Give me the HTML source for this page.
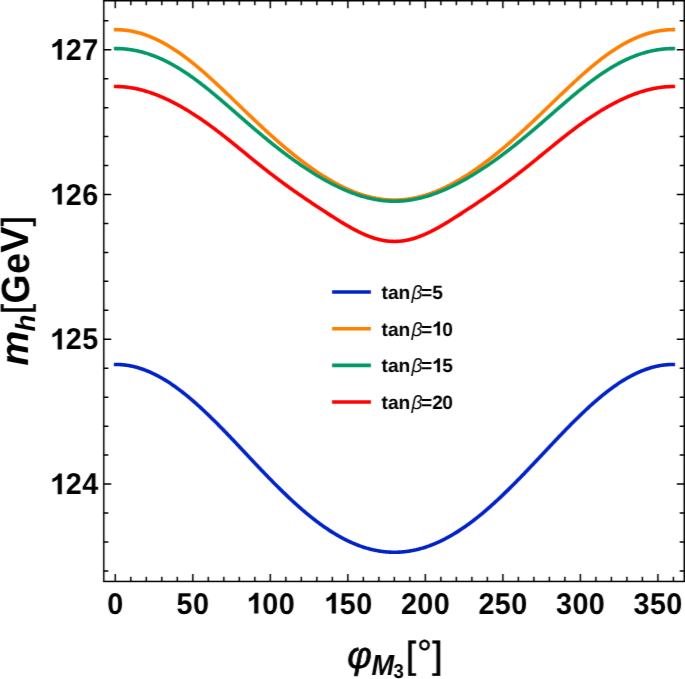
<!DOCTYPE html>
<html><head><meta charset="utf-8"><style>
html,body{margin:0;padding:0;background:#fff;}
body{width:685px;height:679px;overflow:hidden;}
svg{display:block;}
text{font-family:"Liberation Sans",sans-serif;fill:#000;text-rendering:geometricPrecision;}
.tl{font-size:30.00px;font-weight:bold;}
.lg{font-size:19.2px;font-weight:bold;}
.gk{font-weight:normal;font-style:italic;}
</style></head><body>
<svg width="685" height="679" viewBox="0 0 685 679"><defs><filter id="sf" filterUnits="userSpaceOnUse" x="0" y="0" width="685" height="679"><feConvolveMatrix order="3" kernelMatrix="0.00226 0.01181 0.00226 0.13394 0.69946 0.13394 0.00226 0.01181 0.00226" edgeMode="duplicate" preserveAlpha="false"/></filter></defs><g opacity="0.999"><g filter="url(#sf)">
<path d="M115.65,364.45 L116.42,364.46 L117.20,364.47 L117.97,364.49 L118.75,364.52 L119.52,364.55 L120.30,364.59 L121.07,364.65 L121.85,364.71 L122.62,364.77 L123.40,364.85 L124.17,364.93 L124.94,365.02 L125.72,365.12 L126.49,365.23 L127.27,365.34 L128.04,365.46 L128.82,365.59 L129.59,365.73 L130.37,365.88 L131.14,366.03 L131.91,366.19 L132.69,366.36 L133.46,366.54 L134.24,366.72 L135.01,366.91 L135.79,367.11 L136.56,367.32 L137.34,367.54 L138.11,367.76 L138.88,367.99 L139.66,368.23 L140.43,368.47 L141.21,368.72 L141.98,368.98 L142.76,369.25 L143.53,369.53 L144.31,369.81 L145.08,370.10 L145.86,370.40 L146.63,370.70 L147.40,371.01 L148.18,371.33 L148.95,371.66 L149.73,371.99 L150.50,372.34 L151.28,372.68 L152.05,373.04 L152.83,373.40 L153.60,373.77 L154.38,374.15 L155.15,374.53 L155.92,374.92 L156.70,375.32 L157.47,375.72 L158.25,376.13 L159.02,376.55 L159.80,376.97 L160.57,377.41 L161.35,377.84 L162.12,378.29 L162.89,378.74 L163.67,379.20 L164.44,379.66 L165.22,380.13 L165.99,380.61 L166.77,381.09 L167.54,381.58 L168.32,382.08 L169.09,382.58 L169.87,383.09 L170.64,383.60 L171.41,384.12 L172.19,384.65 L172.96,385.18 L173.74,385.72 L174.51,386.26 L175.29,386.81 L176.06,387.37 L176.84,387.93 L177.61,388.49 L178.38,389.07 L179.16,389.65 L179.93,390.23 L180.71,390.82 L181.48,391.41 L182.26,392.01 L183.03,392.62 L183.81,393.23 L184.58,393.84 L185.36,394.46 L186.13,395.09 L186.90,395.72 L187.68,396.36 L188.45,397.00 L189.23,397.64 L190.00,398.29 L190.78,398.95 L191.55,399.61 L192.33,400.27 L193.10,400.94 L193.87,401.61 L194.65,402.29 L195.42,402.97 L196.20,403.66 L196.97,404.35 L197.75,405.04 L198.52,405.74 L199.30,406.44 L200.07,407.15 L200.84,407.86 L201.62,408.58 L202.39,409.29 L203.17,410.02 L203.94,410.74 L204.72,411.47 L205.49,412.20 L206.27,412.94 L207.04,413.68 L207.82,414.42 L208.59,415.17 L209.36,415.92 L210.14,416.67 L210.91,417.42 L211.69,418.18 L212.46,418.94 L213.24,419.71 L214.01,420.47 L214.79,421.24 L215.56,422.02 L216.34,422.79 L217.11,423.57 L217.88,424.35 L218.66,425.13 L219.43,425.92 L220.21,426.70 L220.98,427.49 L221.76,428.28 L222.53,429.08 L223.31,429.87 L224.08,430.67 L224.85,431.47 L225.63,432.27 L226.40,433.07 L227.18,433.87 L227.95,434.68 L228.73,435.49 L229.50,436.30 L230.28,437.11 L231.05,437.92 L231.82,438.73 L232.60,439.55 L233.37,440.36 L234.15,441.18 L234.92,441.99 L235.70,442.81 L236.47,443.63 L237.25,444.45 L238.02,445.27 L238.80,446.09 L239.57,446.91 L240.34,447.74 L241.12,448.56 L241.89,449.38 L242.67,450.21 L243.44,451.03 L244.22,451.85 L244.99,452.68 L245.77,453.50 L246.54,454.32 L247.31,455.15 L248.09,455.97 L248.86,456.80 L249.64,457.62 L250.41,458.44 L251.19,459.27 L251.96,460.09 L252.74,460.91 L253.51,461.73 L254.29,462.55 L255.06,463.37 L255.83,464.19 L256.61,465.01 L257.38,465.83 L258.16,466.64 L258.93,467.46 L259.71,468.27 L260.48,469.08 L261.26,469.90 L262.03,470.71 L262.81,471.52 L263.58,472.32 L264.35,473.13 L265.13,473.94 L265.90,474.74 L266.68,475.54 L267.45,476.34 L268.23,477.14 L269.00,477.94 L269.78,478.73 L270.55,479.52 L271.32,480.32 L272.10,481.10 L272.87,481.89 L273.65,482.68 L274.42,483.46 L275.20,484.24 L275.97,485.02 L276.75,485.79 L277.52,486.57 L278.29,487.34 L279.07,488.11 L279.84,488.87 L280.62,489.63 L281.39,490.39 L282.17,491.15 L282.94,491.91 L283.72,492.66 L284.49,493.41 L285.27,494.16 L286.04,494.90 L286.81,495.64 L287.59,496.38 L288.36,497.11 L289.14,497.84 L289.91,498.57 L290.69,499.29 L291.46,500.01 L292.24,500.73 L293.01,501.45 L293.78,502.16 L294.56,502.86 L295.33,503.57 L296.11,504.27 L296.88,504.97 L297.66,505.66 L298.43,506.35 L299.21,507.03 L299.98,507.71 L300.76,508.39 L301.53,509.07 L302.30,509.74 L303.08,510.40 L303.85,511.06 L304.63,511.72 L305.40,512.37 L306.18,513.02 L306.95,513.67 L307.73,514.31 L308.50,514.95 L309.27,515.58 L310.05,516.21 L310.82,516.83 L311.60,517.45 L312.37,518.06 L313.15,518.67 L313.92,519.28 L314.70,519.88 L315.47,520.48 L316.25,521.07 L317.02,521.65 L317.79,522.24 L318.57,522.81 L319.34,523.39 L320.12,523.95 L320.89,524.52 L321.67,525.08 L322.44,525.63 L323.22,526.18 L323.99,526.72 L324.76,527.26 L325.54,527.79 L326.31,528.32 L327.09,528.84 L327.86,529.36 L328.64,529.87 L329.41,530.38 L330.19,530.88 L330.96,531.38 L331.74,531.87 L332.51,532.36 L333.28,532.84 L334.06,533.31 L334.83,533.78 L335.61,534.25 L336.38,534.71 L337.16,535.16 L337.93,535.61 L338.71,536.05 L339.48,536.49 L340.25,536.92 L341.03,537.35 L341.80,537.77 L342.58,538.18 L343.35,538.59 L344.13,538.99 L344.90,539.39 L345.68,539.78 L346.45,540.17 L347.23,540.55 L348.00,540.93 L348.77,541.29 L349.55,541.66 L350.32,542.01 L351.10,542.37 L351.87,542.71 L352.65,543.05 L353.42,543.38 L354.20,543.71 L354.97,544.03 L355.75,544.35 L356.52,544.66 L357.29,544.96 L358.07,545.26 L358.84,545.55 L359.62,545.84 L360.39,546.12 L361.17,546.39 L361.94,546.66 L362.72,546.92 L363.49,547.17 L364.26,547.42 L365.04,547.67 L365.81,547.90 L366.59,548.13 L367.36,548.36 L368.14,548.58 L368.91,548.79 L369.69,548.99 L370.46,549.19 L371.24,549.39 L372.01,549.57 L372.78,549.76 L373.56,549.93 L374.33,550.10 L375.11,550.26 L375.88,550.42 L376.66,550.57 L377.43,550.71 L378.21,550.84 L378.98,550.98 L379.75,551.10 L380.53,551.22 L381.30,551.33 L382.08,551.43 L382.85,551.53 L383.63,551.63 L384.40,551.71 L385.18,551.79 L385.95,551.86 L386.73,551.93 L387.50,551.99 L388.27,552.05 L389.05,552.09 L389.82,552.14 L390.60,552.17 L391.37,552.20 L392.15,552.22 L392.92,552.24 L393.70,552.25 L394.47,552.25 L395.24,552.25 L396.02,552.24 L396.79,552.22 L397.57,552.20 L398.34,552.17 L399.12,552.14 L399.89,552.09 L400.67,552.05 L401.44,551.99 L402.22,551.93 L402.99,551.86 L403.76,551.79 L404.54,551.71 L405.31,551.63 L406.09,551.53 L406.86,551.43 L407.64,551.33 L408.41,551.22 L409.19,551.10 L409.96,550.98 L410.73,550.84 L411.51,550.71 L412.28,550.57 L413.06,550.42 L413.83,550.26 L414.61,550.10 L415.38,549.93 L416.16,549.76 L416.93,549.57 L417.71,549.39 L418.48,549.19 L419.25,548.99 L420.03,548.79 L420.80,548.58 L421.58,548.36 L422.35,548.13 L423.13,547.90 L423.90,547.67 L424.68,547.42 L425.45,547.17 L426.22,546.92 L427.00,546.66 L427.77,546.39 L428.55,546.12 L429.32,545.84 L430.10,545.55 L430.87,545.26 L431.65,544.96 L432.42,544.66 L433.19,544.35 L433.97,544.03 L434.74,543.71 L435.52,543.38 L436.29,543.05 L437.07,542.71 L437.84,542.37 L438.62,542.01 L439.39,541.66 L440.17,541.29 L440.94,540.93 L441.71,540.55 L442.49,540.17 L443.26,539.78 L444.04,539.39 L444.81,538.99 L445.59,538.59 L446.36,538.18 L447.14,537.77 L447.91,537.35 L448.68,536.92 L449.46,536.49 L450.23,536.05 L451.01,535.61 L451.78,535.16 L452.56,534.71 L453.33,534.25 L454.11,533.78 L454.88,533.31 L455.66,532.84 L456.43,532.36 L457.20,531.87 L457.98,531.38 L458.75,530.88 L459.53,530.38 L460.30,529.87 L461.08,529.36 L461.85,528.84 L462.63,528.32 L463.40,527.79 L464.17,527.26 L464.95,526.72 L465.72,526.18 L466.50,525.63 L467.27,525.08 L468.05,524.52 L468.82,523.95 L469.60,523.39 L470.37,522.81 L471.15,522.24 L471.92,521.65 L472.69,521.07 L473.47,520.48 L474.24,519.88 L475.02,519.28 L475.79,518.67 L476.57,518.06 L477.34,517.45 L478.12,516.83 L478.89,516.21 L479.66,515.58 L480.44,514.95 L481.21,514.31 L481.99,513.67 L482.76,513.02 L483.54,512.37 L484.31,511.72 L485.09,511.06 L485.86,510.40 L486.64,509.74 L487.41,509.07 L488.18,508.39 L488.96,507.71 L489.73,507.03 L490.51,506.35 L491.28,505.66 L492.06,504.97 L492.83,504.27 L493.61,503.57 L494.38,502.86 L495.15,502.16 L495.93,501.45 L496.70,500.73 L497.48,500.01 L498.25,499.29 L499.03,498.57 L499.80,497.84 L500.58,497.11 L501.35,496.38 L502.13,495.64 L502.90,494.90 L503.67,494.16 L504.45,493.41 L505.22,492.66 L506.00,491.91 L506.77,491.15 L507.55,490.39 L508.32,489.63 L509.10,488.87 L509.87,488.11 L510.64,487.34 L511.42,486.57 L512.19,485.79 L512.97,485.02 L513.74,484.24 L514.52,483.46 L515.29,482.68 L516.07,481.89 L516.84,481.10 L517.62,480.32 L518.39,479.52 L519.16,478.73 L519.94,477.94 L520.71,477.14 L521.49,476.34 L522.26,475.54 L523.04,474.74 L523.81,473.94 L524.59,473.13 L525.36,472.32 L526.13,471.52 L526.91,470.71 L527.68,469.90 L528.46,469.08 L529.23,468.27 L530.01,467.46 L530.78,466.64 L531.56,465.83 L532.33,465.01 L533.11,464.19 L533.88,463.37 L534.65,462.55 L535.43,461.73 L536.20,460.91 L536.98,460.09 L537.75,459.27 L538.53,458.44 L539.30,457.62 L540.08,456.80 L540.85,455.97 L541.62,455.15 L542.40,454.32 L543.17,453.50 L543.95,452.68 L544.72,451.85 L545.50,451.03 L546.27,450.21 L547.05,449.38 L547.82,448.56 L548.60,447.74 L549.37,446.91 L550.14,446.09 L550.92,445.27 L551.69,444.45 L552.47,443.63 L553.24,442.81 L554.02,441.99 L554.79,441.18 L555.57,440.36 L556.34,439.55 L557.12,438.73 L557.89,437.92 L558.66,437.11 L559.44,436.30 L560.21,435.49 L560.99,434.68 L561.76,433.87 L562.54,433.07 L563.31,432.27 L564.09,431.47 L564.86,430.67 L565.63,429.87 L566.41,429.08 L567.18,428.28 L567.96,427.49 L568.73,426.70 L569.51,425.92 L570.28,425.13 L571.06,424.35 L571.83,423.57 L572.61,422.79 L573.38,422.02 L574.15,421.24 L574.93,420.47 L575.70,419.71 L576.48,418.94 L577.25,418.18 L578.03,417.42 L578.80,416.67 L579.58,415.92 L580.35,415.17 L581.12,414.42 L581.90,413.68 L582.67,412.94 L583.45,412.20 L584.22,411.47 L585.00,410.74 L585.77,410.02 L586.55,409.29 L587.32,408.58 L588.10,407.86 L588.87,407.15 L589.64,406.44 L590.42,405.74 L591.19,405.04 L591.97,404.35 L592.74,403.66 L593.52,402.97 L594.29,402.29 L595.07,401.61 L595.84,400.94 L596.61,400.27 L597.39,399.61 L598.16,398.95 L598.94,398.29 L599.71,397.64 L600.49,397.00 L601.26,396.36 L602.04,395.72 L602.81,395.09 L603.59,394.46 L604.36,393.84 L605.13,393.23 L605.91,392.62 L606.68,392.01 L607.46,391.41 L608.23,390.82 L609.01,390.23 L609.78,389.65 L610.56,389.07 L611.33,388.49 L612.10,387.93 L612.88,387.37 L613.65,386.81 L614.43,386.26 L615.20,385.72 L615.98,385.18 L616.75,384.65 L617.53,384.12 L618.30,383.60 L619.07,383.09 L619.85,382.58 L620.62,382.08 L621.40,381.58 L622.17,381.09 L622.95,380.61 L623.72,380.13 L624.50,379.66 L625.27,379.20 L626.05,378.74 L626.82,378.29 L627.59,377.84 L628.37,377.41 L629.14,376.97 L629.92,376.55 L630.69,376.13 L631.47,375.72 L632.24,375.32 L633.02,374.92 L633.79,374.53 L634.56,374.15 L635.34,373.77 L636.11,373.40 L636.89,373.04 L637.66,372.68 L638.44,372.34 L639.21,371.99 L639.99,371.66 L640.76,371.33 L641.54,371.01 L642.31,370.70 L643.08,370.40 L643.86,370.10 L644.63,369.81 L645.41,369.53 L646.18,369.25 L646.96,368.98 L647.73,368.72 L648.51,368.47 L649.28,368.23 L650.05,367.99 L650.83,367.76 L651.60,367.54 L652.38,367.32 L653.15,367.11 L653.93,366.91 L654.70,366.72 L655.48,366.54 L656.25,366.36 L657.03,366.19 L657.80,366.03 L658.57,365.88 L659.35,365.73 L660.12,365.59 L660.90,365.46 L661.67,365.34 L662.45,365.23 L663.22,365.12 L664.00,365.02 L664.77,364.93 L665.54,364.85 L666.32,364.77 L667.09,364.71 L667.87,364.65 L668.64,364.59 L669.42,364.55 L670.19,364.52 L670.97,364.49 L671.74,364.47 L672.52,364.46 L673.29,364.45" fill="none" stroke="#0224c6" stroke-width="3.60" stroke-linecap="square" stroke-linejoin="round"/>
<path d="M115.65,29.66 L116.42,29.67 L117.20,29.68 L117.97,29.70 L118.75,29.72 L119.52,29.75 L120.30,29.79 L121.07,29.84 L121.85,29.89 L122.62,29.95 L123.40,30.02 L124.17,30.10 L124.94,30.18 L125.72,30.27 L126.49,30.36 L127.27,30.47 L128.04,30.58 L128.82,30.69 L129.59,30.82 L130.37,30.95 L131.14,31.09 L131.91,31.24 L132.69,31.39 L133.46,31.55 L134.24,31.72 L135.01,31.89 L135.79,32.07 L136.56,32.26 L137.34,32.46 L138.11,32.66 L138.88,32.87 L139.66,33.08 L140.43,33.31 L141.21,33.54 L141.98,33.77 L142.76,34.02 L143.53,34.27 L144.31,34.52 L145.08,34.79 L145.86,35.06 L146.63,35.34 L147.40,35.62 L148.18,35.91 L148.95,36.21 L149.73,36.52 L150.50,36.83 L151.28,37.15 L152.05,37.47 L152.83,37.80 L153.60,38.14 L154.38,38.48 L155.15,38.84 L155.92,39.19 L156.70,39.56 L157.47,39.93 L158.25,40.31 L159.02,40.69 L159.80,41.08 L160.57,41.47 L161.35,41.88 L162.12,42.29 L162.89,42.70 L163.67,43.12 L164.44,43.55 L165.22,43.98 L165.99,44.42 L166.77,44.87 L167.54,45.32 L168.32,45.78 L169.09,46.24 L169.87,46.71 L170.64,47.19 L171.41,47.67 L172.19,48.15 L172.96,48.65 L173.74,49.14 L174.51,49.65 L175.29,50.16 L176.06,50.67 L176.84,51.19 L177.61,51.72 L178.38,52.25 L179.16,52.79 L179.93,53.33 L180.71,53.87 L181.48,54.43 L182.26,54.98 L183.03,55.55 L183.81,56.11 L184.58,56.69 L185.36,57.26 L186.13,57.84 L186.90,58.43 L187.68,59.02 L188.45,59.62 L189.23,60.22 L190.00,60.82 L190.78,61.43 L191.55,62.05 L192.33,62.67 L193.10,63.29 L193.87,63.91 L194.65,64.55 L195.42,65.18 L196.20,65.82 L196.97,66.46 L197.75,67.11 L198.52,67.76 L199.30,68.41 L200.07,69.07 L200.84,69.73 L201.62,70.40 L202.39,71.07 L203.17,71.74 L203.94,72.41 L204.72,73.09 L205.49,73.77 L206.27,74.46 L207.04,75.14 L207.82,75.83 L208.59,76.53 L209.36,77.22 L210.14,77.92 L210.91,78.62 L211.69,79.33 L212.46,80.03 L213.24,80.74 L214.01,81.45 L214.79,82.17 L215.56,82.88 L216.34,83.60 L217.11,84.32 L217.88,85.04 L218.66,85.77 L219.43,86.49 L220.21,87.22 L220.98,87.95 L221.76,88.68 L222.53,89.41 L223.31,90.14 L224.08,90.88 L224.85,91.61 L225.63,92.35 L226.40,93.09 L227.18,93.83 L227.95,94.57 L228.73,95.31 L229.50,96.05 L230.28,96.80 L231.05,97.54 L231.82,98.28 L232.60,99.03 L233.37,99.77 L234.15,100.52 L234.92,101.27 L235.70,102.01 L236.47,102.76 L237.25,103.51 L238.02,104.25 L238.80,105.00 L239.57,105.75 L240.34,106.49 L241.12,107.24 L241.89,107.99 L242.67,108.73 L243.44,109.48 L244.22,110.23 L244.99,110.97 L245.77,111.71 L246.54,112.46 L247.31,113.20 L248.09,113.94 L248.86,114.69 L249.64,115.43 L250.41,116.17 L251.19,116.90 L251.96,117.64 L252.74,118.38 L253.51,119.12 L254.29,119.85 L255.06,120.58 L255.83,121.32 L256.61,122.05 L257.38,122.78 L258.16,123.50 L258.93,124.23 L259.71,124.95 L260.48,125.68 L261.26,126.40 L262.03,127.12 L262.81,127.84 L263.58,128.56 L264.35,129.27 L265.13,129.98 L265.90,130.69 L266.68,131.40 L267.45,132.11 L268.23,132.82 L269.00,133.52 L269.78,134.22 L270.55,134.92 L271.32,135.62 L272.10,136.31 L272.87,137.01 L273.65,137.70 L274.42,138.38 L275.20,139.07 L275.97,139.75 L276.75,140.44 L277.52,141.11 L278.29,141.79 L279.07,142.46 L279.84,143.14 L280.62,143.80 L281.39,144.47 L282.17,145.13 L282.94,145.79 L283.72,146.45 L284.49,147.11 L285.27,147.76 L286.04,148.41 L286.81,149.06 L287.59,149.70 L288.36,150.35 L289.14,150.98 L289.91,151.62 L290.69,152.25 L291.46,152.88 L292.24,153.51 L293.01,154.14 L293.78,154.76 L294.56,155.38 L295.33,155.99 L296.11,156.60 L296.88,157.21 L297.66,157.82 L298.43,158.42 L299.21,159.02 L299.98,159.62 L300.76,160.21 L301.53,160.80 L302.30,161.39 L303.08,161.97 L303.85,162.55 L304.63,163.13 L305.40,163.70 L306.18,164.27 L306.95,164.84 L307.73,165.40 L308.50,165.96 L309.27,166.52 L310.05,167.07 L310.82,167.62 L311.60,168.17 L312.37,168.71 L313.15,169.25 L313.92,169.78 L314.70,170.32 L315.47,170.84 L316.25,171.37 L317.02,171.89 L317.79,172.40 L318.57,172.92 L319.34,173.43 L320.12,173.93 L320.89,174.43 L321.67,174.93 L322.44,175.42 L323.22,175.91 L323.99,176.40 L324.76,176.88 L325.54,177.36 L326.31,177.83 L327.09,178.30 L327.86,178.77 L328.64,179.23 L329.41,179.69 L330.19,180.14 L330.96,180.59 L331.74,181.03 L332.51,181.47 L333.28,181.91 L334.06,182.34 L334.83,182.77 L335.61,183.19 L336.38,183.61 L337.16,184.02 L337.93,184.43 L338.71,184.83 L339.48,185.23 L340.25,185.63 L341.03,186.02 L341.80,186.41 L342.58,186.79 L343.35,187.16 L344.13,187.54 L344.90,187.90 L345.68,188.27 L346.45,188.62 L347.23,188.98 L348.00,189.32 L348.77,189.67 L349.55,190.00 L350.32,190.34 L351.10,190.66 L351.87,190.99 L352.65,191.30 L353.42,191.62 L354.20,191.92 L354.97,192.23 L355.75,192.52 L356.52,192.81 L357.29,193.10 L358.07,193.38 L358.84,193.65 L359.62,193.92 L360.39,194.19 L361.17,194.45 L361.94,194.70 L362.72,194.95 L363.49,195.19 L364.26,195.43 L365.04,195.66 L365.81,195.88 L366.59,196.10 L367.36,196.32 L368.14,196.53 L368.91,196.73 L369.69,196.93 L370.46,197.12 L371.24,197.30 L372.01,197.48 L372.78,197.66 L373.56,197.82 L374.33,197.99 L375.11,198.14 L375.88,198.29 L376.66,198.44 L377.43,198.57 L378.21,198.71 L378.98,198.83 L379.75,198.95 L380.53,199.06 L381.30,199.17 L382.08,199.27 L382.85,199.37 L383.63,199.46 L384.40,199.54 L385.18,199.62 L385.95,199.69 L386.73,199.76 L387.50,199.81 L388.27,199.87 L389.05,199.91 L389.82,199.95 L390.60,199.99 L391.37,200.02 L392.15,200.04 L392.92,200.05 L393.70,200.06 L394.47,200.07 L395.24,200.06 L396.02,200.05 L396.79,200.04 L397.57,200.02 L398.34,199.99 L399.12,199.95 L399.89,199.91 L400.67,199.87 L401.44,199.81 L402.22,199.76 L402.99,199.69 L403.76,199.62 L404.54,199.54 L405.31,199.46 L406.09,199.37 L406.86,199.27 L407.64,199.17 L408.41,199.06 L409.19,198.95 L409.96,198.83 L410.73,198.71 L411.51,198.57 L412.28,198.44 L413.06,198.29 L413.83,198.14 L414.61,197.99 L415.38,197.82 L416.16,197.66 L416.93,197.48 L417.71,197.30 L418.48,197.12 L419.25,196.93 L420.03,196.73 L420.80,196.53 L421.58,196.32 L422.35,196.10 L423.13,195.88 L423.90,195.66 L424.68,195.43 L425.45,195.19 L426.22,194.95 L427.00,194.70 L427.77,194.45 L428.55,194.19 L429.32,193.92 L430.10,193.65 L430.87,193.38 L431.65,193.10 L432.42,192.81 L433.19,192.52 L433.97,192.23 L434.74,191.92 L435.52,191.62 L436.29,191.30 L437.07,190.99 L437.84,190.66 L438.62,190.34 L439.39,190.00 L440.17,189.67 L440.94,189.32 L441.71,188.98 L442.49,188.62 L443.26,188.27 L444.04,187.90 L444.81,187.54 L445.59,187.16 L446.36,186.79 L447.14,186.41 L447.91,186.02 L448.68,185.63 L449.46,185.23 L450.23,184.83 L451.01,184.43 L451.78,184.02 L452.56,183.61 L453.33,183.19 L454.11,182.77 L454.88,182.34 L455.66,181.91 L456.43,181.47 L457.20,181.03 L457.98,180.59 L458.75,180.14 L459.53,179.69 L460.30,179.23 L461.08,178.77 L461.85,178.30 L462.63,177.83 L463.40,177.36 L464.17,176.88 L464.95,176.40 L465.72,175.91 L466.50,175.42 L467.27,174.93 L468.05,174.43 L468.82,173.93 L469.60,173.43 L470.37,172.92 L471.15,172.40 L471.92,171.89 L472.69,171.37 L473.47,170.84 L474.24,170.32 L475.02,169.78 L475.79,169.25 L476.57,168.71 L477.34,168.17 L478.12,167.62 L478.89,167.07 L479.66,166.52 L480.44,165.96 L481.21,165.40 L481.99,164.84 L482.76,164.27 L483.54,163.70 L484.31,163.13 L485.09,162.55 L485.86,161.97 L486.64,161.39 L487.41,160.80 L488.18,160.21 L488.96,159.62 L489.73,159.02 L490.51,158.42 L491.28,157.82 L492.06,157.21 L492.83,156.60 L493.61,155.99 L494.38,155.38 L495.15,154.76 L495.93,154.14 L496.70,153.51 L497.48,152.88 L498.25,152.25 L499.03,151.62 L499.80,150.98 L500.58,150.35 L501.35,149.70 L502.13,149.06 L502.90,148.41 L503.67,147.76 L504.45,147.11 L505.22,146.45 L506.00,145.79 L506.77,145.13 L507.55,144.47 L508.32,143.80 L509.10,143.14 L509.87,142.46 L510.64,141.79 L511.42,141.11 L512.19,140.44 L512.97,139.75 L513.74,139.07 L514.52,138.38 L515.29,137.70 L516.07,137.01 L516.84,136.31 L517.62,135.62 L518.39,134.92 L519.16,134.22 L519.94,133.52 L520.71,132.82 L521.49,132.11 L522.26,131.40 L523.04,130.69 L523.81,129.98 L524.59,129.27 L525.36,128.56 L526.13,127.84 L526.91,127.12 L527.68,126.40 L528.46,125.68 L529.23,124.95 L530.01,124.23 L530.78,123.50 L531.56,122.78 L532.33,122.05 L533.11,121.32 L533.88,120.58 L534.65,119.85 L535.43,119.12 L536.20,118.38 L536.98,117.64 L537.75,116.90 L538.53,116.17 L539.30,115.43 L540.08,114.69 L540.85,113.94 L541.62,113.20 L542.40,112.46 L543.17,111.71 L543.95,110.97 L544.72,110.23 L545.50,109.48 L546.27,108.73 L547.05,107.99 L547.82,107.24 L548.60,106.49 L549.37,105.75 L550.14,105.00 L550.92,104.25 L551.69,103.51 L552.47,102.76 L553.24,102.01 L554.02,101.27 L554.79,100.52 L555.57,99.77 L556.34,99.03 L557.12,98.28 L557.89,97.54 L558.66,96.80 L559.44,96.05 L560.21,95.31 L560.99,94.57 L561.76,93.83 L562.54,93.09 L563.31,92.35 L564.09,91.61 L564.86,90.88 L565.63,90.14 L566.41,89.41 L567.18,88.68 L567.96,87.95 L568.73,87.22 L569.51,86.49 L570.28,85.77 L571.06,85.04 L571.83,84.32 L572.61,83.60 L573.38,82.88 L574.15,82.17 L574.93,81.45 L575.70,80.74 L576.48,80.03 L577.25,79.33 L578.03,78.62 L578.80,77.92 L579.58,77.22 L580.35,76.53 L581.12,75.83 L581.90,75.14 L582.67,74.46 L583.45,73.77 L584.22,73.09 L585.00,72.41 L585.77,71.74 L586.55,71.07 L587.32,70.40 L588.10,69.73 L588.87,69.07 L589.64,68.41 L590.42,67.76 L591.19,67.11 L591.97,66.46 L592.74,65.82 L593.52,65.18 L594.29,64.55 L595.07,63.91 L595.84,63.29 L596.61,62.67 L597.39,62.05 L598.16,61.43 L598.94,60.82 L599.71,60.22 L600.49,59.62 L601.26,59.02 L602.04,58.43 L602.81,57.84 L603.59,57.26 L604.36,56.69 L605.13,56.11 L605.91,55.55 L606.68,54.98 L607.46,54.43 L608.23,53.87 L609.01,53.33 L609.78,52.79 L610.56,52.25 L611.33,51.72 L612.10,51.19 L612.88,50.67 L613.65,50.16 L614.43,49.65 L615.20,49.14 L615.98,48.65 L616.75,48.15 L617.53,47.67 L618.30,47.19 L619.07,46.71 L619.85,46.24 L620.62,45.78 L621.40,45.32 L622.17,44.87 L622.95,44.42 L623.72,43.98 L624.50,43.55 L625.27,43.12 L626.05,42.70 L626.82,42.29 L627.59,41.88 L628.37,41.47 L629.14,41.08 L629.92,40.69 L630.69,40.31 L631.47,39.93 L632.24,39.56 L633.02,39.19 L633.79,38.84 L634.56,38.48 L635.34,38.14 L636.11,37.80 L636.89,37.47 L637.66,37.15 L638.44,36.83 L639.21,36.52 L639.99,36.21 L640.76,35.91 L641.54,35.62 L642.31,35.34 L643.08,35.06 L643.86,34.79 L644.63,34.52 L645.41,34.27 L646.18,34.02 L646.96,33.77 L647.73,33.54 L648.51,33.31 L649.28,33.08 L650.05,32.87 L650.83,32.66 L651.60,32.46 L652.38,32.26 L653.15,32.07 L653.93,31.89 L654.70,31.72 L655.48,31.55 L656.25,31.39 L657.03,31.24 L657.80,31.09 L658.57,30.95 L659.35,30.82 L660.12,30.69 L660.90,30.58 L661.67,30.47 L662.45,30.36 L663.22,30.27 L664.00,30.18 L664.77,30.10 L665.54,30.02 L666.32,29.95 L667.09,29.89 L667.87,29.84 L668.64,29.79 L669.42,29.75 L670.19,29.72 L670.97,29.70 L671.74,29.68 L672.52,29.67 L673.29,29.66" fill="none" stroke="#ff8000" stroke-width="3.60" stroke-linecap="square" stroke-linejoin="round"/>
<path d="M115.65,48.57 L116.42,48.58 L117.20,48.59 L117.97,48.60 L118.75,48.62 L119.52,48.65 L120.30,48.68 L121.07,48.72 L121.85,48.77 L122.62,48.82 L123.40,48.87 L124.17,48.94 L124.94,49.01 L125.72,49.08 L126.49,49.16 L127.27,49.25 L128.04,49.34 L128.82,49.44 L129.59,49.55 L130.37,49.66 L131.14,49.78 L131.91,49.90 L132.69,50.03 L133.46,50.16 L134.24,50.31 L135.01,50.45 L135.79,50.61 L136.56,50.77 L137.34,50.93 L138.11,51.10 L138.88,51.28 L139.66,51.46 L140.43,51.65 L141.21,51.85 L141.98,52.05 L142.76,52.26 L143.53,52.47 L144.31,52.69 L145.08,52.91 L145.86,53.14 L146.63,53.38 L147.40,53.63 L148.18,53.87 L148.95,54.13 L149.73,54.39 L150.50,54.66 L151.28,54.93 L152.05,55.21 L152.83,55.49 L153.60,55.78 L154.38,56.08 L155.15,56.38 L155.92,56.69 L156.70,57.00 L157.47,57.32 L158.25,57.65 L159.02,57.98 L159.80,58.31 L160.57,58.66 L161.35,59.00 L162.12,59.36 L162.89,59.72 L163.67,60.08 L164.44,60.45 L165.22,60.83 L165.99,61.21 L166.77,61.60 L167.54,61.99 L168.32,62.39 L169.09,62.80 L169.87,63.21 L170.64,63.62 L171.41,64.04 L172.19,64.47 L172.96,64.90 L173.74,65.33 L174.51,65.78 L175.29,66.22 L176.06,66.68 L176.84,67.13 L177.61,67.59 L178.38,68.06 L179.16,68.53 L179.93,69.01 L180.71,69.49 L181.48,69.98 L182.26,70.47 L183.03,70.97 L183.81,71.47 L184.58,71.98 L185.36,72.49 L186.13,73.01 L186.90,73.53 L187.68,74.05 L188.45,74.58 L189.23,75.11 L190.00,75.65 L190.78,76.20 L191.55,76.74 L192.33,77.29 L193.10,77.85 L193.87,78.41 L194.65,78.97 L195.42,79.54 L196.20,80.11 L196.97,80.68 L197.75,81.26 L198.52,81.84 L199.30,82.43 L200.07,83.02 L200.84,83.61 L201.62,84.21 L202.39,84.81 L203.17,85.41 L203.94,86.02 L204.72,86.63 L205.49,87.24 L206.27,87.85 L207.04,88.47 L207.82,89.09 L208.59,89.72 L209.36,90.34 L210.14,90.97 L210.91,91.61 L211.69,92.24 L212.46,92.88 L213.24,93.52 L214.01,94.16 L214.79,94.80 L215.56,95.45 L216.34,96.10 L217.11,96.75 L217.88,97.40 L218.66,98.05 L219.43,98.71 L220.21,99.36 L220.98,100.02 L221.76,100.68 L222.53,101.35 L223.31,102.01 L224.08,102.67 L224.85,103.34 L225.63,104.01 L226.40,104.67 L227.18,105.34 L227.95,106.01 L228.73,106.68 L229.50,107.35 L230.28,108.03 L231.05,108.70 L231.82,109.37 L232.60,110.05 L233.37,110.72 L234.15,111.40 L234.92,112.07 L235.70,112.75 L236.47,113.42 L237.25,114.10 L238.02,114.77 L238.80,115.45 L239.57,116.12 L240.34,116.80 L241.12,117.47 L241.89,118.15 L242.67,118.82 L243.44,119.49 L244.22,120.17 L244.99,120.84 L245.77,121.51 L246.54,122.18 L247.31,122.85 L248.09,123.52 L248.86,124.19 L249.64,124.86 L250.41,125.53 L251.19,126.19 L251.96,126.86 L252.74,127.52 L253.51,128.18 L254.29,128.85 L255.06,129.51 L255.83,130.17 L256.61,130.82 L257.38,131.48 L258.16,132.13 L258.93,132.79 L259.71,133.44 L260.48,134.09 L261.26,134.74 L262.03,135.38 L262.81,136.03 L263.58,136.67 L264.35,137.31 L265.13,137.95 L265.90,138.59 L266.68,139.23 L267.45,139.86 L268.23,140.49 L269.00,141.12 L269.78,141.75 L270.55,142.38 L271.32,143.00 L272.10,143.62 L272.87,144.24 L273.65,144.86 L274.42,145.48 L275.20,146.09 L275.97,146.70 L276.75,147.31 L277.52,147.91 L278.29,148.52 L279.07,149.12 L279.84,149.72 L280.62,150.32 L281.39,150.91 L282.17,151.50 L282.94,152.09 L283.72,152.68 L284.49,153.27 L285.27,153.85 L286.04,154.43 L286.81,155.01 L287.59,155.58 L288.36,156.15 L289.14,156.72 L289.91,157.29 L290.69,157.85 L291.46,158.42 L292.24,158.98 L293.01,159.53 L293.78,160.09 L294.56,160.64 L295.33,161.19 L296.11,161.73 L296.88,162.28 L297.66,162.82 L298.43,163.35 L299.21,163.89 L299.98,164.42 L300.76,164.95 L301.53,165.48 L302.30,166.00 L303.08,166.52 L303.85,167.04 L304.63,167.56 L305.40,168.07 L306.18,168.58 L306.95,169.08 L307.73,169.59 L308.50,170.09 L309.27,170.59 L310.05,171.08 L310.82,171.57 L311.60,172.06 L312.37,172.55 L313.15,173.03 L313.92,173.51 L314.70,173.99 L315.47,174.46 L316.25,174.93 L317.02,175.40 L317.79,175.86 L318.57,176.32 L319.34,176.78 L320.12,177.23 L320.89,177.69 L321.67,178.13 L322.44,178.58 L323.22,179.02 L323.99,179.46 L324.76,179.89 L325.54,180.32 L326.31,180.75 L327.09,181.18 L327.86,181.60 L328.64,182.01 L329.41,182.43 L330.19,182.84 L330.96,183.24 L331.74,183.65 L332.51,184.05 L333.28,184.44 L334.06,184.83 L334.83,185.22 L335.61,185.61 L336.38,185.99 L337.16,186.36 L337.93,186.74 L338.71,187.11 L339.48,187.47 L340.25,187.83 L341.03,188.19 L341.80,188.54 L342.58,188.89 L343.35,189.24 L344.13,189.58 L344.90,189.91 L345.68,190.25 L346.45,190.57 L347.23,190.90 L348.00,191.22 L348.77,191.53 L349.55,191.84 L350.32,192.15 L351.10,192.45 L351.87,192.75 L352.65,193.04 L353.42,193.33 L354.20,193.61 L354.97,193.89 L355.75,194.17 L356.52,194.44 L357.29,194.70 L358.07,194.96 L358.84,195.22 L359.62,195.47 L360.39,195.71 L361.17,195.95 L361.94,196.19 L362.72,196.42 L363.49,196.64 L364.26,196.86 L365.04,197.08 L365.81,197.29 L366.59,197.49 L367.36,197.69 L368.14,197.89 L368.91,198.08 L369.69,198.26 L370.46,198.44 L371.24,198.61 L372.01,198.78 L372.78,198.94 L373.56,199.10 L374.33,199.25 L375.11,199.39 L375.88,199.53 L376.66,199.67 L377.43,199.80 L378.21,199.92 L378.98,200.04 L379.75,200.15 L380.53,200.26 L381.30,200.36 L382.08,200.46 L382.85,200.55 L383.63,200.63 L384.40,200.71 L385.18,200.78 L385.95,200.85 L386.73,200.91 L387.50,200.96 L388.27,201.01 L389.05,201.06 L389.82,201.10 L390.60,201.13 L391.37,201.15 L392.15,201.17 L392.92,201.19 L393.70,201.20 L394.47,201.20 L395.24,201.20 L396.02,201.19 L396.79,201.17 L397.57,201.15 L398.34,201.13 L399.12,201.10 L399.89,201.06 L400.67,201.01 L401.44,200.96 L402.22,200.91 L402.99,200.85 L403.76,200.78 L404.54,200.71 L405.31,200.63 L406.09,200.55 L406.86,200.46 L407.64,200.36 L408.41,200.26 L409.19,200.15 L409.96,200.04 L410.73,199.92 L411.51,199.80 L412.28,199.67 L413.06,199.53 L413.83,199.39 L414.61,199.25 L415.38,199.10 L416.16,198.94 L416.93,198.78 L417.71,198.61 L418.48,198.44 L419.25,198.26 L420.03,198.08 L420.80,197.89 L421.58,197.69 L422.35,197.49 L423.13,197.29 L423.90,197.08 L424.68,196.86 L425.45,196.64 L426.22,196.42 L427.00,196.19 L427.77,195.95 L428.55,195.71 L429.32,195.47 L430.10,195.22 L430.87,194.96 L431.65,194.70 L432.42,194.44 L433.19,194.17 L433.97,193.89 L434.74,193.61 L435.52,193.33 L436.29,193.04 L437.07,192.75 L437.84,192.45 L438.62,192.15 L439.39,191.84 L440.17,191.53 L440.94,191.22 L441.71,190.90 L442.49,190.57 L443.26,190.25 L444.04,189.91 L444.81,189.58 L445.59,189.24 L446.36,188.89 L447.14,188.54 L447.91,188.19 L448.68,187.83 L449.46,187.47 L450.23,187.11 L451.01,186.74 L451.78,186.36 L452.56,185.99 L453.33,185.61 L454.11,185.22 L454.88,184.83 L455.66,184.44 L456.43,184.05 L457.20,183.65 L457.98,183.24 L458.75,182.84 L459.53,182.43 L460.30,182.01 L461.08,181.60 L461.85,181.18 L462.63,180.75 L463.40,180.32 L464.17,179.89 L464.95,179.46 L465.72,179.02 L466.50,178.58 L467.27,178.13 L468.05,177.69 L468.82,177.23 L469.60,176.78 L470.37,176.32 L471.15,175.86 L471.92,175.40 L472.69,174.93 L473.47,174.46 L474.24,173.99 L475.02,173.51 L475.79,173.03 L476.57,172.55 L477.34,172.06 L478.12,171.57 L478.89,171.08 L479.66,170.59 L480.44,170.09 L481.21,169.59 L481.99,169.08 L482.76,168.58 L483.54,168.07 L484.31,167.56 L485.09,167.04 L485.86,166.52 L486.64,166.00 L487.41,165.48 L488.18,164.95 L488.96,164.42 L489.73,163.89 L490.51,163.35 L491.28,162.82 L492.06,162.28 L492.83,161.73 L493.61,161.19 L494.38,160.64 L495.15,160.09 L495.93,159.53 L496.70,158.98 L497.48,158.42 L498.25,157.85 L499.03,157.29 L499.80,156.72 L500.58,156.15 L501.35,155.58 L502.13,155.01 L502.90,154.43 L503.67,153.85 L504.45,153.27 L505.22,152.68 L506.00,152.09 L506.77,151.50 L507.55,150.91 L508.32,150.32 L509.10,149.72 L509.87,149.12 L510.64,148.52 L511.42,147.91 L512.19,147.31 L512.97,146.70 L513.74,146.09 L514.52,145.48 L515.29,144.86 L516.07,144.24 L516.84,143.62 L517.62,143.00 L518.39,142.38 L519.16,141.75 L519.94,141.12 L520.71,140.49 L521.49,139.86 L522.26,139.23 L523.04,138.59 L523.81,137.95 L524.59,137.31 L525.36,136.67 L526.13,136.03 L526.91,135.38 L527.68,134.74 L528.46,134.09 L529.23,133.44 L530.01,132.79 L530.78,132.13 L531.56,131.48 L532.33,130.82 L533.11,130.17 L533.88,129.51 L534.65,128.85 L535.43,128.18 L536.20,127.52 L536.98,126.86 L537.75,126.19 L538.53,125.53 L539.30,124.86 L540.08,124.19 L540.85,123.52 L541.62,122.85 L542.40,122.18 L543.17,121.51 L543.95,120.84 L544.72,120.17 L545.50,119.49 L546.27,118.82 L547.05,118.15 L547.82,117.47 L548.60,116.80 L549.37,116.12 L550.14,115.45 L550.92,114.77 L551.69,114.10 L552.47,113.42 L553.24,112.75 L554.02,112.07 L554.79,111.40 L555.57,110.72 L556.34,110.05 L557.12,109.37 L557.89,108.70 L558.66,108.03 L559.44,107.35 L560.21,106.68 L560.99,106.01 L561.76,105.34 L562.54,104.67 L563.31,104.01 L564.09,103.34 L564.86,102.67 L565.63,102.01 L566.41,101.35 L567.18,100.68 L567.96,100.02 L568.73,99.36 L569.51,98.71 L570.28,98.05 L571.06,97.40 L571.83,96.75 L572.61,96.10 L573.38,95.45 L574.15,94.80 L574.93,94.16 L575.70,93.52 L576.48,92.88 L577.25,92.24 L578.03,91.61 L578.80,90.97 L579.58,90.34 L580.35,89.72 L581.12,89.09 L581.90,88.47 L582.67,87.85 L583.45,87.24 L584.22,86.63 L585.00,86.02 L585.77,85.41 L586.55,84.81 L587.32,84.21 L588.10,83.61 L588.87,83.02 L589.64,82.43 L590.42,81.84 L591.19,81.26 L591.97,80.68 L592.74,80.11 L593.52,79.54 L594.29,78.97 L595.07,78.41 L595.84,77.85 L596.61,77.29 L597.39,76.74 L598.16,76.20 L598.94,75.65 L599.71,75.11 L600.49,74.58 L601.26,74.05 L602.04,73.53 L602.81,73.01 L603.59,72.49 L604.36,71.98 L605.13,71.47 L605.91,70.97 L606.68,70.47 L607.46,69.98 L608.23,69.49 L609.01,69.01 L609.78,68.53 L610.56,68.06 L611.33,67.59 L612.10,67.13 L612.88,66.68 L613.65,66.22 L614.43,65.78 L615.20,65.33 L615.98,64.90 L616.75,64.47 L617.53,64.04 L618.30,63.62 L619.07,63.21 L619.85,62.80 L620.62,62.39 L621.40,61.99 L622.17,61.60 L622.95,61.21 L623.72,60.83 L624.50,60.45 L625.27,60.08 L626.05,59.72 L626.82,59.36 L627.59,59.00 L628.37,58.66 L629.14,58.31 L629.92,57.98 L630.69,57.65 L631.47,57.32 L632.24,57.00 L633.02,56.69 L633.79,56.38 L634.56,56.08 L635.34,55.78 L636.11,55.49 L636.89,55.21 L637.66,54.93 L638.44,54.66 L639.21,54.39 L639.99,54.13 L640.76,53.87 L641.54,53.63 L642.31,53.38 L643.08,53.14 L643.86,52.91 L644.63,52.69 L645.41,52.47 L646.18,52.26 L646.96,52.05 L647.73,51.85 L648.51,51.65 L649.28,51.46 L650.05,51.28 L650.83,51.10 L651.60,50.93 L652.38,50.77 L653.15,50.61 L653.93,50.45 L654.70,50.31 L655.48,50.16 L656.25,50.03 L657.03,49.90 L657.80,49.78 L658.57,49.66 L659.35,49.55 L660.12,49.44 L660.90,49.34 L661.67,49.25 L662.45,49.16 L663.22,49.08 L664.00,49.01 L664.77,48.94 L665.54,48.87 L666.32,48.82 L667.09,48.77 L667.87,48.72 L668.64,48.68 L669.42,48.65 L670.19,48.62 L670.97,48.60 L671.74,48.59 L672.52,48.58 L673.29,48.57" fill="none" stroke="#009966" stroke-width="3.60" stroke-linecap="square" stroke-linejoin="round"/>
<path d="M115.65,86.53 L116.42,86.54 L117.20,86.55 L117.97,86.56 L118.75,86.58 L119.52,86.61 L120.30,86.65 L121.07,86.69 L121.85,86.73 L122.62,86.79 L123.40,86.85 L124.17,86.91 L124.94,86.98 L125.72,87.06 L126.49,87.15 L127.27,87.24 L128.04,87.33 L128.82,87.44 L129.59,87.54 L130.37,87.66 L131.14,87.78 L131.91,87.91 L132.69,88.04 L133.46,88.18 L134.24,88.32 L135.01,88.47 L135.79,88.63 L136.56,88.79 L137.34,88.96 L138.11,89.13 L138.88,89.31 L139.66,89.50 L140.43,89.69 L141.21,89.88 L141.98,90.09 L142.76,90.29 L143.53,90.51 L144.31,90.72 L145.08,90.95 L145.86,91.18 L146.63,91.41 L147.40,91.65 L148.18,91.90 L148.95,92.15 L149.73,92.40 L150.50,92.66 L151.28,92.93 L152.05,93.20 L152.83,93.48 L153.60,93.76 L154.38,94.04 L155.15,94.33 L155.92,94.63 L156.70,94.93 L157.47,95.23 L158.25,95.54 L159.02,95.86 L159.80,96.18 L160.57,96.50 L161.35,96.83 L162.12,97.16 L162.89,97.50 L163.67,97.84 L164.44,98.19 L165.22,98.54 L165.99,98.90 L166.77,99.26 L167.54,99.62 L168.32,99.99 L169.09,100.36 L169.87,100.74 L170.64,101.12 L171.41,101.51 L172.19,101.90 L172.96,102.29 L173.74,102.69 L174.51,103.09 L175.29,103.50 L176.06,103.91 L176.84,104.32 L177.61,104.74 L178.38,105.16 L179.16,105.59 L179.93,106.02 L180.71,106.45 L181.48,106.89 L182.26,107.33 L183.03,107.78 L183.81,108.23 L184.58,108.68 L185.36,109.14 L186.13,109.60 L186.90,110.06 L187.68,110.53 L188.45,111.00 L189.23,111.48 L190.00,111.96 L190.78,112.44 L191.55,112.92 L192.33,113.41 L193.10,113.91 L193.87,114.40 L194.65,114.91 L195.42,115.41 L196.20,115.92 L196.97,116.43 L197.75,116.94 L198.52,117.46 L199.30,117.98 L200.07,118.50 L200.84,119.03 L201.62,119.56 L202.39,120.10 L203.17,120.63 L203.94,121.17 L204.72,121.72 L205.49,122.26 L206.27,122.81 L207.04,123.37 L207.82,123.92 L208.59,124.48 L209.36,125.04 L210.14,125.61 L210.91,126.17 L211.69,126.74 L212.46,127.32 L213.24,127.89 L214.01,128.47 L214.79,129.05 L215.56,129.63 L216.34,130.22 L217.11,130.81 L217.88,131.40 L218.66,131.99 L219.43,132.59 L220.21,133.18 L220.98,133.78 L221.76,134.39 L222.53,134.99 L223.31,135.60 L224.08,136.20 L224.85,136.81 L225.63,137.42 L226.40,138.04 L227.18,138.65 L227.95,139.27 L228.73,139.89 L229.50,140.51 L230.28,141.13 L231.05,141.75 L231.82,142.37 L232.60,143.00 L233.37,143.62 L234.15,144.25 L234.92,144.88 L235.70,145.51 L236.47,146.14 L237.25,146.77 L238.02,147.40 L238.80,148.03 L239.57,148.66 L240.34,149.29 L241.12,149.93 L241.89,150.56 L242.67,151.19 L243.44,151.83 L244.22,152.46 L244.99,153.09 L245.77,153.73 L246.54,154.36 L247.31,154.99 L248.09,155.62 L248.86,156.26 L249.64,156.89 L250.41,157.52 L251.19,158.15 L251.96,158.78 L252.74,159.41 L253.51,160.04 L254.29,160.66 L255.06,161.29 L255.83,161.92 L256.61,162.54 L257.38,163.16 L258.16,163.79 L258.93,164.41 L259.71,165.03 L260.48,165.65 L261.26,166.26 L262.03,166.88 L262.81,167.49 L263.58,168.11 L264.35,168.72 L265.13,169.33 L265.90,169.94 L266.68,170.54 L267.45,171.15 L268.23,171.75 L269.00,172.35 L269.78,172.95 L270.55,173.55 L271.32,174.15 L272.10,174.74 L272.87,175.34 L273.65,175.93 L274.42,176.52 L275.20,177.10 L275.97,177.69 L276.75,178.27 L277.52,178.85 L278.29,179.43 L279.07,180.01 L279.84,180.59 L280.62,181.16 L281.39,181.74 L282.17,182.31 L282.94,182.88 L283.72,183.44 L284.49,184.01 L285.27,184.57 L286.04,185.13 L286.81,185.69 L287.59,186.25 L288.36,186.81 L289.14,187.36 L289.91,187.92 L290.69,188.47 L291.46,189.02 L292.24,189.57 L293.01,190.12 L293.78,190.66 L294.56,191.21 L295.33,191.75 L296.11,192.29 L296.88,192.83 L297.66,193.37 L298.43,193.91 L299.21,194.45 L299.98,194.98 L300.76,195.51 L301.53,196.05 L302.30,196.58 L303.08,197.11 L303.85,197.64 L304.63,198.17 L305.40,198.70 L306.18,199.22 L306.95,199.75 L307.73,200.27 L308.50,200.80 L309.27,201.32 L310.05,201.84 L310.82,202.36 L311.60,202.88 L312.37,203.40 L313.15,203.92 L313.92,204.44 L314.70,204.96 L315.47,205.47 L316.25,205.99 L317.02,206.50 L317.79,207.02 L318.57,207.53 L319.34,208.04 L320.12,208.55 L320.89,209.06 L321.67,209.57 L322.44,210.08 L323.22,210.59 L323.99,211.10 L324.76,211.61 L325.54,212.11 L326.31,212.61 L327.09,213.12 L327.86,213.62 L328.64,214.12 L329.41,214.62 L330.19,215.12 L330.96,215.62 L331.74,216.11 L332.51,216.61 L333.28,217.10 L334.06,217.59 L334.83,218.08 L335.61,218.57 L336.38,219.06 L337.16,219.54 L337.93,220.02 L338.71,220.50 L339.48,220.98 L340.25,221.45 L341.03,221.93 L341.80,222.40 L342.58,222.87 L343.35,223.33 L344.13,223.79 L344.90,224.25 L345.68,224.71 L346.45,225.16 L347.23,225.61 L348.00,226.06 L348.77,226.50 L349.55,226.94 L350.32,227.38 L351.10,227.81 L351.87,228.24 L352.65,228.66 L353.42,229.08 L354.20,229.49 L354.97,229.90 L355.75,230.31 L356.52,230.71 L357.29,231.10 L358.07,231.49 L358.84,231.88 L359.62,232.25 L360.39,232.63 L361.17,232.99 L361.94,233.36 L362.72,233.71 L363.49,234.06 L364.26,234.40 L365.04,234.74 L365.81,235.07 L366.59,235.39 L367.36,235.70 L368.14,236.01 L368.91,236.31 L369.69,236.60 L370.46,236.89 L371.24,237.17 L372.01,237.44 L372.78,237.70 L373.56,237.96 L374.33,238.20 L375.11,238.44 L375.88,238.67 L376.66,238.89 L377.43,239.10 L378.21,239.31 L378.98,239.50 L379.75,239.69 L380.53,239.87 L381.30,240.03 L382.08,240.19 L382.85,240.34 L383.63,240.48 L384.40,240.62 L385.18,240.74 L385.95,240.85 L386.73,240.95 L387.50,241.04 L388.27,241.13 L389.05,241.20 L389.82,241.27 L390.60,241.32 L391.37,241.36 L392.15,241.40 L392.92,241.42 L393.70,241.44 L394.47,241.44 L395.24,241.44 L396.02,241.42 L396.79,241.40 L397.57,241.36 L398.34,241.32 L399.12,241.27 L399.89,241.20 L400.67,241.13 L401.44,241.04 L402.22,240.95 L402.99,240.85 L403.76,240.74 L404.54,240.62 L405.31,240.48 L406.09,240.34 L406.86,240.19 L407.64,240.03 L408.41,239.87 L409.19,239.69 L409.96,239.50 L410.73,239.31 L411.51,239.10 L412.28,238.89 L413.06,238.67 L413.83,238.44 L414.61,238.20 L415.38,237.96 L416.16,237.70 L416.93,237.44 L417.71,237.17 L418.48,236.89 L419.25,236.60 L420.03,236.31 L420.80,236.01 L421.58,235.70 L422.35,235.39 L423.13,235.07 L423.90,234.74 L424.68,234.40 L425.45,234.06 L426.22,233.71 L427.00,233.36 L427.77,232.99 L428.55,232.63 L429.32,232.25 L430.10,231.88 L430.87,231.49 L431.65,231.10 L432.42,230.71 L433.19,230.31 L433.97,229.90 L434.74,229.49 L435.52,229.08 L436.29,228.66 L437.07,228.24 L437.84,227.81 L438.62,227.38 L439.39,226.94 L440.17,226.50 L440.94,226.06 L441.71,225.61 L442.49,225.16 L443.26,224.71 L444.04,224.25 L444.81,223.79 L445.59,223.33 L446.36,222.87 L447.14,222.40 L447.91,221.93 L448.68,221.45 L449.46,220.98 L450.23,220.50 L451.01,220.02 L451.78,219.54 L452.56,219.06 L453.33,218.57 L454.11,218.08 L454.88,217.59 L455.66,217.10 L456.43,216.61 L457.20,216.11 L457.98,215.62 L458.75,215.12 L459.53,214.62 L460.30,214.12 L461.08,213.62 L461.85,213.12 L462.63,212.61 L463.40,212.11 L464.17,211.61 L464.95,211.10 L465.72,210.59 L466.50,210.08 L467.27,209.57 L468.05,209.06 L468.82,208.55 L469.60,208.04 L470.37,207.53 L471.15,207.02 L471.92,206.50 L472.69,205.99 L473.47,205.47 L474.24,204.96 L475.02,204.44 L475.79,203.92 L476.57,203.40 L477.34,202.88 L478.12,202.36 L478.89,201.84 L479.66,201.32 L480.44,200.80 L481.21,200.27 L481.99,199.75 L482.76,199.22 L483.54,198.70 L484.31,198.17 L485.09,197.64 L485.86,197.11 L486.64,196.58 L487.41,196.05 L488.18,195.51 L488.96,194.98 L489.73,194.45 L490.51,193.91 L491.28,193.37 L492.06,192.83 L492.83,192.29 L493.61,191.75 L494.38,191.21 L495.15,190.66 L495.93,190.12 L496.70,189.57 L497.48,189.02 L498.25,188.47 L499.03,187.92 L499.80,187.36 L500.58,186.81 L501.35,186.25 L502.13,185.69 L502.90,185.13 L503.67,184.57 L504.45,184.01 L505.22,183.44 L506.00,182.88 L506.77,182.31 L507.55,181.74 L508.32,181.16 L509.10,180.59 L509.87,180.01 L510.64,179.43 L511.42,178.85 L512.19,178.27 L512.97,177.69 L513.74,177.10 L514.52,176.52 L515.29,175.93 L516.07,175.34 L516.84,174.74 L517.62,174.15 L518.39,173.55 L519.16,172.95 L519.94,172.35 L520.71,171.75 L521.49,171.15 L522.26,170.54 L523.04,169.94 L523.81,169.33 L524.59,168.72 L525.36,168.11 L526.13,167.49 L526.91,166.88 L527.68,166.26 L528.46,165.65 L529.23,165.03 L530.01,164.41 L530.78,163.79 L531.56,163.16 L532.33,162.54 L533.11,161.92 L533.88,161.29 L534.65,160.66 L535.43,160.04 L536.20,159.41 L536.98,158.78 L537.75,158.15 L538.53,157.52 L539.30,156.89 L540.08,156.26 L540.85,155.62 L541.62,154.99 L542.40,154.36 L543.17,153.73 L543.95,153.09 L544.72,152.46 L545.50,151.83 L546.27,151.19 L547.05,150.56 L547.82,149.93 L548.60,149.29 L549.37,148.66 L550.14,148.03 L550.92,147.40 L551.69,146.77 L552.47,146.14 L553.24,145.51 L554.02,144.88 L554.79,144.25 L555.57,143.62 L556.34,143.00 L557.12,142.37 L557.89,141.75 L558.66,141.13 L559.44,140.51 L560.21,139.89 L560.99,139.27 L561.76,138.65 L562.54,138.04 L563.31,137.42 L564.09,136.81 L564.86,136.20 L565.63,135.60 L566.41,134.99 L567.18,134.39 L567.96,133.78 L568.73,133.18 L569.51,132.59 L570.28,131.99 L571.06,131.40 L571.83,130.81 L572.61,130.22 L573.38,129.63 L574.15,129.05 L574.93,128.47 L575.70,127.89 L576.48,127.32 L577.25,126.74 L578.03,126.17 L578.80,125.61 L579.58,125.04 L580.35,124.48 L581.12,123.92 L581.90,123.37 L582.67,122.81 L583.45,122.26 L584.22,121.72 L585.00,121.17 L585.77,120.63 L586.55,120.10 L587.32,119.56 L588.10,119.03 L588.87,118.50 L589.64,117.98 L590.42,117.46 L591.19,116.94 L591.97,116.43 L592.74,115.92 L593.52,115.41 L594.29,114.91 L595.07,114.40 L595.84,113.91 L596.61,113.41 L597.39,112.92 L598.16,112.44 L598.94,111.96 L599.71,111.48 L600.49,111.00 L601.26,110.53 L602.04,110.06 L602.81,109.60 L603.59,109.14 L604.36,108.68 L605.13,108.23 L605.91,107.78 L606.68,107.33 L607.46,106.89 L608.23,106.45 L609.01,106.02 L609.78,105.59 L610.56,105.16 L611.33,104.74 L612.10,104.32 L612.88,103.91 L613.65,103.50 L614.43,103.09 L615.20,102.69 L615.98,102.29 L616.75,101.90 L617.53,101.51 L618.30,101.12 L619.07,100.74 L619.85,100.36 L620.62,99.99 L621.40,99.62 L622.17,99.26 L622.95,98.90 L623.72,98.54 L624.50,98.19 L625.27,97.84 L626.05,97.50 L626.82,97.16 L627.59,96.83 L628.37,96.50 L629.14,96.18 L629.92,95.86 L630.69,95.54 L631.47,95.23 L632.24,94.93 L633.02,94.63 L633.79,94.33 L634.56,94.04 L635.34,93.76 L636.11,93.48 L636.89,93.20 L637.66,92.93 L638.44,92.66 L639.21,92.40 L639.99,92.15 L640.76,91.90 L641.54,91.65 L642.31,91.41 L643.08,91.18 L643.86,90.95 L644.63,90.72 L645.41,90.51 L646.18,90.29 L646.96,90.09 L647.73,89.88 L648.51,89.69 L649.28,89.50 L650.05,89.31 L650.83,89.13 L651.60,88.96 L652.38,88.79 L653.15,88.63 L653.93,88.47 L654.70,88.32 L655.48,88.18 L656.25,88.04 L657.03,87.91 L657.80,87.78 L658.57,87.66 L659.35,87.54 L660.12,87.44 L660.90,87.33 L661.67,87.24 L662.45,87.15 L663.22,87.06 L664.00,86.98 L664.77,86.91 L665.54,86.85 L666.32,86.79 L667.09,86.73 L667.87,86.69 L668.64,86.65 L669.42,86.61 L670.19,86.58 L670.97,86.56 L671.74,86.55 L672.52,86.54 L673.29,86.53" fill="none" stroke="#ff0000" stroke-width="3.60" stroke-linecap="square" stroke-linejoin="round"/>
<path d="M115.30,581.45V573.95M115.30,0.75V8.25M130.80,581.45V576.85M130.80,0.75V5.35M146.31,581.45V576.85M146.31,0.75V5.35M161.81,581.45V576.85M161.81,0.75V5.35M177.31,581.45V576.85M177.31,0.75V5.35M192.81,581.45V573.95M192.81,0.75V8.25M208.32,581.45V576.85M208.32,0.75V5.35M223.82,581.45V576.85M223.82,0.75V5.35M239.32,581.45V576.85M239.32,0.75V5.35M254.83,581.45V576.85M254.83,0.75V5.35M270.33,581.45V573.95M270.33,0.75V8.25M285.83,581.45V576.85M285.83,0.75V5.35M301.34,581.45V576.85M301.34,0.75V5.35M316.84,581.45V576.85M316.84,0.75V5.35M332.34,581.45V576.85M332.34,0.75V5.35M347.85,581.45V573.95M347.85,0.75V8.25M363.35,581.45V576.85M363.35,0.75V5.35M378.85,581.45V576.85M378.85,0.75V5.35M394.35,581.45V576.85M394.35,0.75V5.35M409.86,581.45V576.85M409.86,0.75V5.35M425.36,581.45V573.95M425.36,0.75V8.25M440.86,581.45V576.85M440.86,0.75V5.35M456.37,581.45V576.85M456.37,0.75V5.35M471.87,581.45V576.85M471.87,0.75V5.35M487.37,581.45V576.85M487.37,0.75V5.35M502.88,581.45V573.95M502.88,0.75V8.25M518.38,581.45V576.85M518.38,0.75V5.35M533.88,581.45V576.85M533.88,0.75V5.35M549.38,581.45V576.85M549.38,0.75V5.35M564.89,581.45V576.85M564.89,0.75V5.35M580.39,581.45V573.95M580.39,0.75V8.25M595.89,581.45V576.85M595.89,0.75V5.35M611.40,581.45V576.85M611.40,0.75V5.35M626.90,581.45V576.85M626.90,0.75V5.35M642.40,581.45V576.85M642.40,0.75V5.35M657.90,581.45V573.95M657.90,0.75V8.25M673.41,581.45V576.85M673.41,0.75V5.35M103.75,570.93H108.35M684.30,570.93H679.70M103.75,541.97H108.35M684.30,541.97H679.70M103.75,513.02H108.35M684.30,513.02H679.70M103.75,484.06H111.25M684.30,484.06H676.80M103.75,455.10H108.35M684.30,455.10H679.70M103.75,426.15H108.35M684.30,426.15H679.70M103.75,397.19H108.35M684.30,397.19H679.70M103.75,368.24H108.35M684.30,368.24H679.70M103.75,339.28H111.25M684.30,339.28H676.80M103.75,310.32H108.35M684.30,310.32H679.70M103.75,281.37H108.35M684.30,281.37H679.70M103.75,252.41H108.35M684.30,252.41H679.70M103.75,223.46H108.35M684.30,223.46H679.70M103.75,194.50H111.25M684.30,194.50H676.80M103.75,165.54H108.35M684.30,165.54H679.70M103.75,136.59H108.35M684.30,136.59H679.70M103.75,107.63H108.35M684.30,107.63H679.70M103.75,78.68H108.35M684.30,78.68H679.70M103.75,49.72H111.25M684.30,49.72H676.80M103.75,20.76H108.35M684.30,20.76H679.70" stroke="#000" stroke-width="1.50" fill="none"/>
<rect x="103.75" y="0.75" width="580.55" height="580.70" fill="none" stroke="#000" stroke-width="1.50"/>
<path d="M4.12,0H0V-14.94Q-2.26,-12.91 -5.32,-11.95V-15.55Q-3.71,-16.05 -1.82,-17.46Q0.06,-18.87 0.76,-20.76H4.12Z" transform="translate(57.70,494.16)"/>
<text transform="translate(73.80,494.16) scale(0.960,1)" text-anchor="middle" class="tl">2</text>
<text transform="translate(90.20,494.16) scale(0.960,1)" text-anchor="middle" class="tl">4</text>
<path d="M4.12,0H0V-14.94Q-2.26,-12.91 -5.32,-11.95V-15.55Q-3.71,-16.05 -1.82,-17.46Q0.06,-18.87 0.76,-20.76H4.12Z" transform="translate(57.70,349.38)"/>
<text transform="translate(73.80,349.38) scale(0.960,1)" text-anchor="middle" class="tl">2</text>
<text transform="translate(90.20,349.38) scale(0.960,1)" text-anchor="middle" class="tl">5</text>
<path d="M4.12,0H0V-14.94Q-2.26,-12.91 -5.32,-11.95V-15.55Q-3.71,-16.05 -1.82,-17.46Q0.06,-18.87 0.76,-20.76H4.12Z" transform="translate(57.70,204.60)"/>
<text transform="translate(73.80,204.60) scale(0.960,1)" text-anchor="middle" class="tl">2</text>
<text transform="translate(90.20,204.60) scale(0.960,1)" text-anchor="middle" class="tl">6</text>
<path d="M4.12,0H0V-14.94Q-2.26,-12.91 -5.32,-11.95V-15.55Q-3.71,-16.05 -1.82,-17.46Q0.06,-18.87 0.76,-20.76H4.12Z" transform="translate(57.70,59.82)"/>
<text transform="translate(73.80,59.82) scale(0.960,1)" text-anchor="middle" class="tl">2</text>
<text transform="translate(90.20,59.82) scale(0.960,1)" text-anchor="middle" class="tl">7</text>
<text transform="translate(115.30,613.60) scale(0.960,1)" text-anchor="middle" class="tl">0</text>
<text transform="translate(184.61,613.60) scale(0.960,1)" text-anchor="middle" class="tl">5</text>
<text transform="translate(201.01,613.60) scale(0.960,1)" text-anchor="middle" class="tl">0</text>
<path d="M4.12,0H0V-14.94Q-2.26,-12.91 -5.32,-11.95V-15.55Q-3.71,-16.05 -1.82,-17.46Q0.06,-18.87 0.76,-20.76H4.12Z" transform="translate(254.23,613.60)"/>
<text transform="translate(270.33,613.60) scale(0.960,1)" text-anchor="middle" class="tl">0</text>
<text transform="translate(286.73,613.60) scale(0.960,1)" text-anchor="middle" class="tl">0</text>
<path d="M4.12,0H0V-14.94Q-2.26,-12.91 -5.32,-11.95V-15.55Q-3.71,-16.05 -1.82,-17.46Q0.06,-18.87 0.76,-20.76H4.12Z" transform="translate(331.75,613.60)"/>
<text transform="translate(347.84,613.60) scale(0.960,1)" text-anchor="middle" class="tl">5</text>
<text transform="translate(364.24,613.60) scale(0.960,1)" text-anchor="middle" class="tl">0</text>
<text transform="translate(408.96,613.60) scale(0.960,1)" text-anchor="middle" class="tl">2</text>
<text transform="translate(425.36,613.60) scale(0.960,1)" text-anchor="middle" class="tl">0</text>
<text transform="translate(441.76,613.60) scale(0.960,1)" text-anchor="middle" class="tl">0</text>
<text transform="translate(486.47,613.60) scale(0.960,1)" text-anchor="middle" class="tl">2</text>
<text transform="translate(502.87,613.60) scale(0.960,1)" text-anchor="middle" class="tl">5</text>
<text transform="translate(519.27,613.60) scale(0.960,1)" text-anchor="middle" class="tl">0</text>
<text transform="translate(563.99,613.60) scale(0.960,1)" text-anchor="middle" class="tl">3</text>
<text transform="translate(580.39,613.60) scale(0.960,1)" text-anchor="middle" class="tl">0</text>
<text transform="translate(596.79,613.60) scale(0.960,1)" text-anchor="middle" class="tl">0</text>
<text transform="translate(641.50,613.60) scale(0.960,1)" text-anchor="middle" class="tl">3</text>
<text transform="translate(657.90,613.60) scale(0.960,1)" text-anchor="middle" class="tl">5</text>
<text transform="translate(674.30,613.60) scale(0.960,1)" text-anchor="middle" class="tl">0</text>
<path d="M332.1,292.00H370.9" stroke="#0224c6" stroke-width="3.60"/>
<text x="381.5" y="298.90" class="lg">tan</text>
<text transform="translate(411.6,298.90) scale(1.0,1)" class="gk" style="font-size:19.20px">β</text>
<text x="421.0" y="298.90" class="lg">=</text>
<text x="432.21" y="298.90" class="lg">5</text>
<path d="M332.1,328.70H370.9" stroke="#ff8000" stroke-width="3.60"/>
<text x="381.5" y="335.60" class="lg">tan</text>
<text transform="translate(411.6,335.60) scale(1.0,1)" class="gk" style="font-size:19.20px">β</text>
<text x="421.0" y="335.60" class="lg">=</text>
<path d="M4.12,0H0V-14.94Q-2.26,-12.91 -5.32,-11.95V-15.55Q-3.71,-16.05 -1.82,-17.46Q0.06,-18.87 0.76,-20.76H4.12Z" transform="translate(437.21,335.60) scale(0.6800)"/>
<text x="442.31" y="335.60" class="lg">0</text>
<path d="M332.1,365.40H370.9" stroke="#009966" stroke-width="3.60"/>
<text x="381.5" y="372.30" class="lg">tan</text>
<text transform="translate(411.6,372.30) scale(1.0,1)" class="gk" style="font-size:19.20px">β</text>
<text x="421.0" y="372.30" class="lg">=</text>
<path d="M4.12,0H0V-14.94Q-2.26,-12.91 -5.32,-11.95V-15.55Q-3.71,-16.05 -1.82,-17.46Q0.06,-18.87 0.76,-20.76H4.12Z" transform="translate(437.21,372.30) scale(0.6800)"/>
<text x="442.31" y="372.30" class="lg">5</text>
<path d="M332.1,402.00H370.9" stroke="#ff0000" stroke-width="3.60"/>
<text x="381.5" y="408.90" class="lg">tan</text>
<text transform="translate(411.6,408.90) scale(1.0,1)" class="gk" style="font-size:19.20px">β</text>
<text x="421.0" y="408.90" class="lg">=</text>
<text x="432.21" y="408.90" class="lg">2</text>
<text x="442.31" y="408.90" class="lg">0</text>
<text transform="translate(347.30,667.70) scale(1.000,1)" style="font-size:37.6px;font-style:italic" stroke="#000" stroke-width="0.70">φ</text>
<text transform="translate(371.50,675.00) scale(0.930,1)" style="font-size:29.2px;font-style:italic;font-weight:bold">M</text>
<text transform="translate(393.50,678.20) scale(0.920,1)" style="font-size:20.2px;font-weight:bold">3</text>
<text transform="translate(405.70,667.70) scale(1.000,1)" style="font-size:37.5px" stroke="#000" stroke-width="0.50">[</text>
<text transform="translate(416.90,665.90) scale(1.000,1)" style="font-size:37.5px" stroke="#000" stroke-width="0.40">°</text>
<text transform="translate(432.20,667.70) scale(1.000,1)" style="font-size:37.5px" stroke="#000" stroke-width="0.50">]</text>
<text transform="translate(28.40,365.67) rotate(-90) scale(1.000,1)" style="font-size:39.4px;font-style:italic;font-weight:bold">m</text>
<text transform="translate(35.10,331.47) rotate(-90) scale(1.000,1)" style="font-size:27.7px;font-style:italic;font-weight:bold">h</text>
<text transform="translate(27.90,314.20) rotate(-90) scale(1.000,1)" style="font-size:37.3px" stroke="#000" stroke-width="0.50">[</text>
<text transform="translate(28.50,303.40) rotate(-90) scale(0.950,1)" style="font-size:39.4px;font-weight:bold">G</text>
<text transform="translate(28.50,273.90) rotate(-90) scale(0.960,1)" style="font-size:39.4px;font-weight:bold">e</text>
<text transform="translate(28.30,252.70) rotate(-90) scale(1.000,1)" style="font-size:39.4px;font-weight:bold">V</text>
<text transform="translate(27.90,226.20) rotate(-90) scale(1.000,1)" style="font-size:37.3px" stroke="#000" stroke-width="0.50">]</text>
</g></g></svg>
</body></html>
